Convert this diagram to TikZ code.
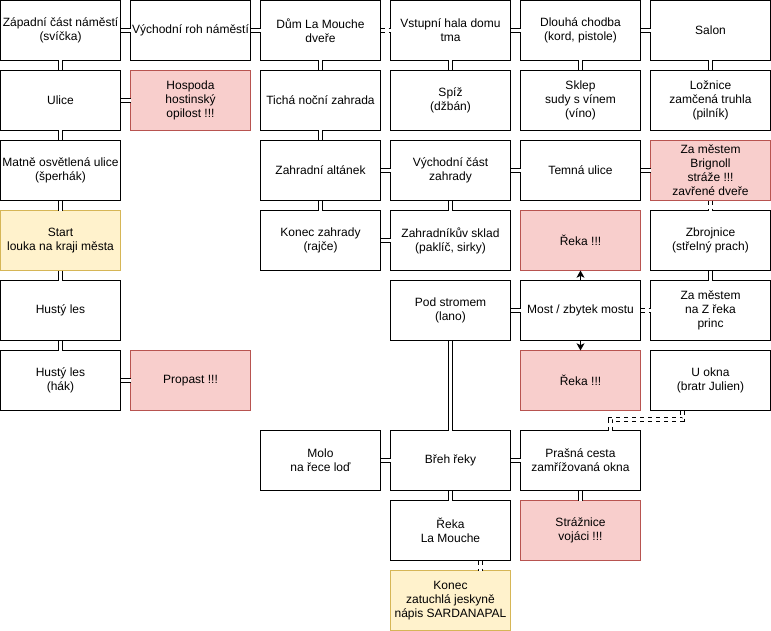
\documentclass[tikz,border=0pt]{standalone}
\usepackage{fontspec}
\setmainfont{Liberation Sans}
\usepackage{xcolor}
\usetikzlibrary{arrows.meta,positioning}

\definecolor{trapfill}{HTML}{F8CECC}
\definecolor{trapline}{HTML}{B85450}
\definecolor{goalfill}{HTML}{FFF2CC}
\definecolor{goalline}{HTML}{D6B656}

\begin{document}
\begin{tikzpicture}[
    font=\fontsize{9pt}{10.5pt}\selectfont,
    node distance=7.5pt,
    room/.style={draw, line width=0.75pt, align=center, inner sep=0pt, outer sep=0pt,
                 minimum width=90pt, minimum height=45pt, fill=white},
    trap/.style={room, draw=trapline, fill=trapfill},
    goal/.style={room, draw=goalline, fill=goalfill},
    link/.style={line width=0.75pt, double=white, double distance=2.25pt},
    arr/.style={-{Stealth[length=5.5pt,width=6pt,inset=1.5pt]}, line width=0.75pt},
    ]
% row 0
\node[room, anchor=north west] (zapad) at (0,0) {Západní část náměstí\\(svíčka)};
\node[room, right=of zapad] (vroh) {Východní roh náměstí};
\node[room, right=of vroh] (dum) {Dům La Mouche\\dveře};
\node[room, right=of dum] (hala) {Vstupní hala domu\\tma};
\node[room, right=of hala] (chodba) {Dlouhá chodba\\(kord, pistole)};
\node[room, right=of chodba] (salon) {Salon};
% row 1
\node[room, below=of zapad] (ulice) {Ulice};
\node[trap, below=of vroh] (hospoda) {Hospoda\\hostinský\\opilost !!!};
\node[room, below=of dum] (ticha) {Tichá noční zahrada};
\node[room, below=of hala] (spiz) {Spíž\\(džbán)};
\node[room, below=of chodba] (sklep) {Sklep\\sudy s vínem\\(víno)};
\node[room, below=of salon] (loznice) {Ložnice\\zamčená truhla\\(pilník)};
% row 2
\node[room, below=of ulice] (matne) {Matně osvětlená ulice\\(šperhák)};
\node[room, below=of ticha] (altan) {Zahradní altánek};
\node[room, below=of spiz] (vzahrada) {Východní část\\zahrady};
\node[room, below=of sklep] (temna) {Temná ulice};
\node[trap, below=of loznice] (brignoll) {Za městem\\Brignoll\\stráže !!!\\zavřené dveře};
% row 3
\node[goal, below=of matne] (start) {Start\\louka na kraji města};
\node[room, below=of altan] (konecz) {Konec zahrady\\(rajče)};
\node[room, below=of vzahrada] (sklad) {Zahradníkův sklad\\(paklíč, sirky)};
\node[trap, below=of temna] (reka1) {Řeka !!!};
\node[room, below=of brignoll] (zbroj) {Zbrojnice\\(střelný prach)};
% row 4
\node[room, below=of start] (les1) {Hustý les};
\node[room, below=of sklad] (strom) {Pod stromem\\(lano)};
\node[room, below=of reka1] (most) {Most / zbytek mostu};
\node[room, below=of zbroj] (zamestem) {Za městem\\na Z řeka\\princ};
% row 5
\node[room, below=of les1] (les2) {Hustý les\\(hák)};
\node[trap, right=of les2] (propast) {Propast !!!};
\node[trap, below=of most] (reka2) {Řeka !!!};
\node[room, below=of zamestem] (okno) {U okna\\(bratr Julien)};
% rows 6--8
\node[room, below=15pt of reka2] (prasna) {Prašná cesta\\zamřížovaná okna};
\node[room, left=of prasna] (breh) {Břeh řeky};
\node[room, left=of breh] (molo) {Molo\\na řece loď};
\node[room, below=of breh] (rekam) {Řeka\\La Mouche};
\node[trap, below=of prasna] (straz) {Strážnice\\vojáci !!!};
\node[goal, below=of rekam] (konec) {Konec\\zatuchlá jeskyně\\nápis SARDANAPAL};

% passages
\draw[link] (zapad) -- (vroh);
\draw[link] (vroh) -- (dum);
\draw[link, dashed] (dum) -- (hala);
\draw[link] (hala) -- (chodba);
\draw[link] (chodba) -- (salon);
\draw[link] (zapad) -- (ulice);
\draw[link] (dum) -- (ticha);
\draw[link] (hala) -- (spiz);
\draw[link] (chodba) -- (sklep);
\draw[link] (salon) -- (loznice);
\draw[link] (ulice) -- (hospoda);
\draw[link] (ulice) -- (matne);
\draw[link] (ticha) -- (altan);
\draw[link] (altan) -- (vzahrada);
\draw[link] (vzahrada) -- (temna);
\draw[link] (temna) -- (brignoll);
\draw[link] (matne) -- (start);
\draw[link] (altan) -- (konecz);
\draw[link] (vzahrada) -- (sklad);
\draw[link, dashed] (brignoll) -- (zbroj);
\draw[link] (konecz) -- (sklad);
\draw[link] (start) -- (les1);
\draw[link] (zbroj) -- (zamestem);
\draw[link] (strom) -- (most);
\draw[link, dashed] (most) -- (zamestem);
\draw[link] (les1) -- (les2);
\draw[link] (les2) -- (propast);
\draw[link] (strom) -- (breh);
\draw[link, dashed] ([xshift=-21pt]okno.south) -- ++(0,-6.75pt) -| ([xshift=22.5pt]prasna.north);
\draw[link] (molo) -- (breh);
\draw[link] (breh) -- (prasna);
\draw[link] (breh) -- (rekam);
\draw[link] (prasna) -- (straz);
\draw[link, dashed] ([xshift=22.5pt]rekam.south) -- ([xshift=22.5pt]konec.north);
% one way
\draw[arr] (most) -- (reka1);
\draw[arr] (most) -- (reka2);

\useasboundingbox (-0.375pt,0.375pt) rectangle ++(578.25pt,-473.25pt);
\end{tikzpicture}
\end{document}
